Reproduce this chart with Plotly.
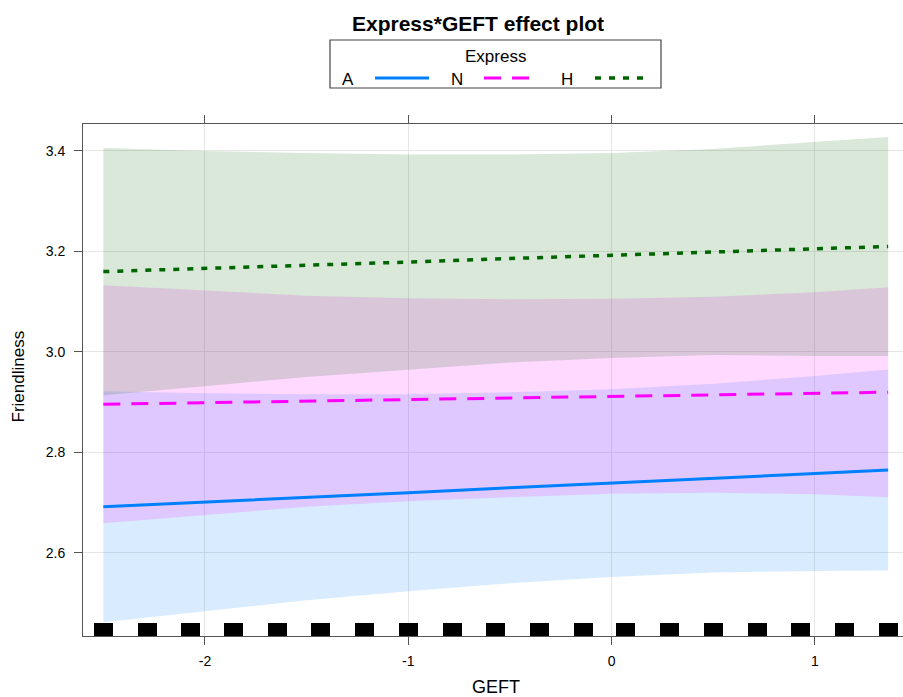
import plotly.graph_objects as go

# ---- data ----
geft = [-2.5, -2.0, -1.5, -1.0, -0.5, 0.0, 0.5, 1.0, 1.36]

fit_A = [2.692, 2.701, 2.711, 2.720, 2.730, 2.739, 2.749, 2.758, 2.765]
upper_A = [2.922, 2.918, 2.916, 2.916, 2.920, 2.926, 2.937, 2.952, 2.965]
lower_A = [2.462, 2.484, 2.506, 2.524, 2.540, 2.552, 2.561, 2.564, 2.565]

fit_N = [2.896, 2.899, 2.902, 2.905, 2.908, 2.912, 2.915, 2.918, 2.920]
upper_N = [3.133, 3.122, 3.112, 3.107, 3.105, 3.106, 3.110, 3.119, 3.129]
lower_N = [2.659, 2.676, 2.692, 2.703, 2.711, 2.718, 2.720, 2.717, 2.711]

fit_H = [3.160, 3.166, 3.173, 3.179, 3.186, 3.192, 3.199, 3.205, 3.210]
upper_H = [3.406, 3.400, 3.396, 3.393, 3.393, 3.396, 3.404, 3.418, 3.428]
lower_H = [2.914, 2.932, 2.950, 2.965, 2.979, 2.988, 2.994, 2.992, 2.992]

rug_geft = [-2.50, -2.285, -2.07, -1.86, -1.645, -1.43, -1.215, -1.00, -0.785,
            -0.57, -0.355, -0.14, 0.07, 0.285, 0.50, 0.715, 0.93, 1.145, 1.36]

x_ticks = [-2, -1, 0, 1]
x_tick_labels = ["-2", "-1", "0", "1"]
y_ticks = [2.6, 2.8, 3.0, 3.2, 3.4]
y_tick_labels = ["2.6", "2.8", "3.0", "3.2", "3.4"]

levels = ["A", "N", "H"]

# ---- styling ----
FONT = "Liberation Sans, Arial, sans-serif"
colors = {"A": "#0080ff", "N": "#ff00ff", "H": "#006400"}
bands = {"A": "rgba(0,128,255,0.15)", "N": "rgba(255,0,255,0.15)", "H": "rgba(0,100,0,0.15)"}
dashes = {"A": "solid", "N": "17px,11px", "H": "6px,8px"}
widths = {"A": 3, "N": 3, "H": 3.5}

X_RANGE = [-2.6, 1.433]
Y_RANGE = [2.4348, 3.4537]

series = {
    "A": (fit_A, upper_A, lower_A),
    "N": (fit_N, upper_N, lower_N),
    "H": (fit_H, upper_H, lower_H),
}

fig = go.Figure()

for lv in levels:
    fit, up, lo = series[lv]
    fig.add_trace(go.Scatter(
        x=geft + geft[::-1], y=up + lo[::-1], fill="toself",
        fillcolor=bands[lv], line=dict(width=0), mode="lines",
        hoverinfo="skip", showlegend=False))

for lv in levels:
    fit, up, lo = series[lv]
    fig.add_trace(go.Scatter(
        x=geft, y=fit, mode="lines", name=lv, showlegend=False,
        line=dict(color=colors[lv], width=widths[lv], dash=dashes[lv])))

# rug
fig.add_trace(go.Bar(
    x=rug_geft, y=[0.0259] * len(rug_geft), base=Y_RANGE[0], width=0.0935,
    marker=dict(color="black", line=dict(width=0)), showlegend=False,
    hoverinfo="skip"))

L, T, B = 83, 124, 61
W, H = 903, 697
pw = W - L
ph = H - T - B


def px_x(p):
    return (p - L) / pw


def px_y(p):
    return (H - B - p) / ph


axis_col = "#555555"
fig.update_layout(
    width=W, height=H,
    margin=dict(l=L, r=0, t=T, b=B, pad=0),
    paper_bgcolor="white", plot_bgcolor="white",
    font=dict(family=FONT, color="black", size=14),
    showlegend=False,
    bargap=0,
    xaxis=dict(range=X_RANGE, tickvals=x_ticks, ticktext=x_tick_labels,
               showgrid=True, gridcolor="#e6e6e6", gridwidth=1, zeroline=False,
               showline=True, linecolor=axis_col, linewidth=1, mirror="ticks",
               ticks="outside", ticklen=8, tickcolor=axis_col, tickwidth=1,
               ticklabelstandoff=4,
               tickfont=dict(size=14, family=FONT)),
    yaxis=dict(range=Y_RANGE, tickvals=y_ticks, ticktext=y_tick_labels,
               showgrid=True, gridcolor="#e6e6e6", gridwidth=1, zeroline=False,
               showline=True, linecolor=axis_col, linewidth=1,
               ticks="outside", ticklen=8, tickcolor=axis_col, tickwidth=1,
               ticklabelstandoff=6,
               tickfont=dict(size=14, family=FONT)),
)

ann = []
ann.append(dict(text="<b>Express*GEFT effect plot</b>", x=px_x(478), y=px_y(23),
                xref="paper", yref="paper", showarrow=False,
                font=dict(size=21, family=FONT), xanchor="center", yanchor="middle"))
ann.append(dict(text="Friendliness", x=px_x(17.5), y=px_y(377), xref="paper", yref="paper",
                showarrow=False, textangle=-90, font=dict(size=17, family=FONT),
                xanchor="center", yanchor="middle"))
ann.append(dict(text="GEFT", x=px_x(496), y=px_y(687), xref="paper", yref="paper",
                showarrow=False, font=dict(size=18, family=FONT),
                xanchor="center", yanchor="middle"))
ann.append(dict(text="Express", x=px_x(495), y=px_y(56), xref="paper", yref="paper",
                showarrow=False, font=dict(size=17, family=FONT),
                xanchor="center", yanchor="middle"))

shapes = [dict(type="rect", xref="paper", yref="paper",
               x0=px_x(330), x1=px_x(661), y0=px_y(88), y1=px_y(40),
               line=dict(color="#444444", width=1.2), fillcolor="rgba(0,0,0,0)")]

leg_pos = {"A": (348, 375, 429), "N": (457, 484, 530), "H": (567, 595, 645)}
for lv in levels:
    tx, l0, l1 = leg_pos[lv]
    ann.append(dict(text=lv, x=px_x(tx), y=px_y(79), xref="paper", yref="paper",
                    showarrow=False, font=dict(size=17, family=FONT),
                    xanchor="center", yanchor="middle"))
    shapes.append(dict(type="line", xref="paper", yref="paper",
                       x0=px_x(l0), x1=px_x(l1), y0=px_y(78), y1=px_y(78),
                       line=dict(color=colors[lv], width=widths[lv], dash=dashes[lv])))

fig.update_layout(annotations=ann, shapes=shapes)

fig.write_html(
    "out.html",
    config={"displayModeBar": False},
    post_script="document.body.style.margin='0';document.body.style.overflow='hidden';",
)
